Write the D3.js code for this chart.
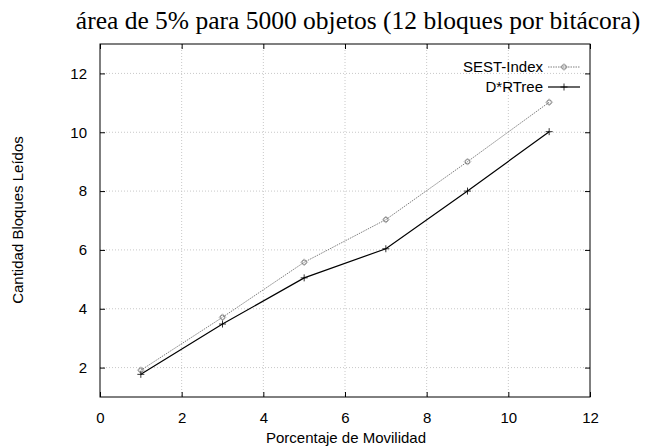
<!DOCTYPE html>
<html><head><meta charset="utf-8">
<script src="https://cdn.jsdelivr.net/npm/d3@7"></script>
<style>body{margin:0;background:#fff}</style>
</head><body>
<svg id="c" width="666" height="446"></svg>
<script>
const xValues = [1, 3, 5, 7, 9, 11];
const sestIndex = [1.91, 3.71, 5.58, 7.03, 9.0, 11.02];
const dRTree = [1.77, 3.48, 5.05, 6.04, 8.0, 10.02];
const xTicks = [0, 2, 4, 6, 8, 10, 12];
const yTicks = [2, 4, 6, 8, 10, 12];
const seriesNames = ["SEST-Index", "D*RTree"];
const title = "área de 5% para 5000 objetos (12 bloques por bitácora)";
const xLabel = "Porcentaje de Movilidad";
const yLabel = "Cantidad Bloques Leídos";

const svg = d3.select("#c");
const L = 100, R = 590, T = 44, B = 397;
const x = d3.scaleLinear().domain([0, 12]).range([L, R]);
const y = d3.scaleLinear().domain([1, 13]).range([B, T]);
const sans = "'Liberation Sans', Arial, sans-serif";
const fs = 15;

// grid
const g = svg.append("g");
g.selectAll(".gx").data(xTicks.slice(1, -1)).enter().append("line")
  .attr("x1", d => x(d)).attr("x2", d => x(d)).attr("y1", T).attr("y2", B)
  .attr("stroke", "#c8c8c8").attr("stroke-width", 1).attr("stroke-dasharray", "1,2");
g.selectAll(".gy").data(yTicks).enter().append("line")
  .attr("y1", d => y(d)).attr("y2", d => y(d)).attr("x1", L).attr("x2", R)
  .attr("stroke", "#c8c8c8").attr("stroke-width", 1).attr("stroke-dasharray", "1,2");

// axes (ticks inward, mirrored)
const ax = d3.axisBottom(x).tickValues(xTicks).tickSize(-5).tickPadding(15);
const axTop = d3.axisTop(x).tickValues(xTicks).tickSize(-5).tickFormat("");
const ay = d3.axisLeft(y).tickValues(yTicks).tickSize(-5).tickPadding(13);
const ayR = d3.axisRight(y).tickValues(yTicks).tickSize(-5).tickFormat("");
function style(sel) {
  sel.select(".domain").remove();
  sel.selectAll("line").attr("stroke", "#000");
  sel.selectAll("text").attr("font-family", sans).attr("font-size", fs).attr("fill", "#000");
}
svg.append("g").attr("transform", `translate(0,${B})`).call(ax).call(style);
svg.append("g").attr("transform", `translate(0,${T})`).call(axTop).call(style);
svg.append("g").attr("transform", `translate(${L},0)`).call(ay).call(style);
svg.append("g").attr("transform", `translate(${R},0)`).call(ayR).call(style);
svg.append("rect").attr("x", L).attr("y", T).attr("width", R - L).attr("height", B - T)
  .attr("fill", "none").attr("stroke", "#000").attr("stroke-width", 1);

// lines
const line = d3.line().x(d => x(d[0])).y(d => y(d[1]));
const s1 = xValues.map((v, i) => [v, sestIndex[i]]);
const s2 = xValues.map((v, i) => [v, dRTree[i]]);
svg.append("path").datum(s1).attr("d", line).attr("fill", "none")
  .attr("stroke", "#808080").attr("stroke-width", 1).attr("stroke-dasharray", "1.5,1");
svg.append("path").datum(s2).attr("d", line).attr("fill", "none")
  .attr("stroke", "#000").attr("stroke-width", 1.2);

function diamondCircle(sel, cx, cy) {
  sel.append("circle").attr("cx", cx).attr("cy", cy).attr("r", 2.2)
    .attr("fill", "none").attr("stroke", "#666").attr("stroke-width", 0.8);
  sel.append("path").attr("d", `M${cx-3.5},${cy}L${cx},${cy-3.5}L${cx+3.5},${cy}L${cx},${cy+3.5}Z`)
    .attr("fill", "none").attr("stroke", "#999").attr("stroke-width", 0.6);
}
function plus(sel, cx, cy) {
  sel.append("path").attr("d", `M${cx-3.5},${cy}H${cx+3.5}M${cx},${cy-3.5}V${cy+3.5}`)
    .attr("stroke", "#000").attr("stroke-width", 0.8);
}
const m = svg.append("g");
s1.forEach(d => diamondCircle(m, x(d[0]), y(d[1])));
s2.forEach(d => plus(m, x(d[0]), y(d[1])));

// legend
const lg = svg.append("g");
const ly = [67, 87];
seriesNames.forEach((n, i) => {
  lg.append("text").attr("x", 543).attr("y", ly[i]).attr("dy", "0.35em").attr("text-anchor", "end")
    .attr("font-family", sans).attr("font-size", fs).text(n);
});
lg.append("line").attr("x1", 548).attr("x2", 580).attr("y1", ly[0]).attr("y2", ly[0])
  .attr("stroke", "#808080").attr("stroke-dasharray", "1.5,1");
diamondCircle(lg, 564, ly[0]);
lg.append("line").attr("x1", 548).attr("x2", 580).attr("y1", ly[1]).attr("y2", ly[1])
  .attr("stroke", "#000").attr("stroke-width", 1.2);
plus(lg, 564, ly[1]);

// titles
svg.append("text").attr("x", 358).attr("y", 29).attr("text-anchor", "middle")
  .attr("font-family", "'Liberation Serif', 'Times New Roman', serif").attr("font-size", 25.5).text(title);
svg.append("text").attr("x", 346).attr("y", 443).attr("text-anchor", "middle")
  .attr("font-family", sans).attr("font-size", fs).text(xLabel);
svg.append("text").attr("transform", "translate(23,220) rotate(-90)").attr("text-anchor", "middle")
  .attr("font-family", sans).attr("font-size", fs).text(yLabel);
</script>
</body></html>
